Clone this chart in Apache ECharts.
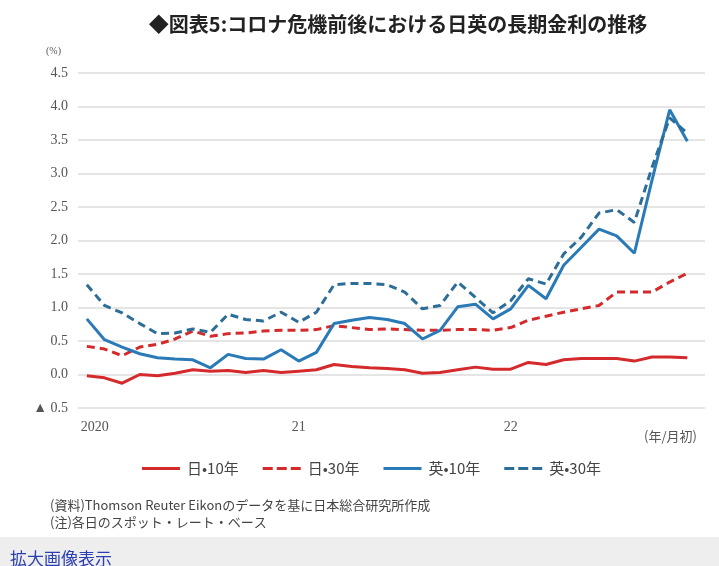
<!DOCTYPE html>
<html>
<head>
<meta charset="utf-8">
<script src="https://cdn.jsdelivr.net/npm/echarts@6/dist/echarts.min.js"></script>
<style>
html,body{margin:0;padding:0;background:#fff;}
#c{width:719px;height:566px;}
</style>
</head>
<body>
<div id="c"></div>
<script>
// Monthly (start of month), Jan 2020 .. Nov 2022 -> index 0..34
const xTickValues = [0, 12, 24];
const xTickLabels = ['2020', '21', '22'];
const seriesNames = ['日•10年', '日•30年', '英•10年', '英•30年'];

const jp10 = [-0.02,-0.05,-0.13,0.00,-0.02,0.02,0.07,0.05,0.06,0.03,0.06,0.03,
              0.05,0.07,0.15,0.12,0.10,0.09,0.07,0.02,0.03,0.07,0.11,0.08,
              0.08,0.18,0.15,0.22,0.24,0.24,0.24,0.20,0.26,0.26,0.25];
const jp30 = [0.42,0.38,0.28,0.41,0.45,0.53,0.65,0.57,0.61,0.62,0.65,0.66,
              0.66,0.67,0.73,0.70,0.67,0.68,0.67,0.66,0.66,0.67,0.67,0.66,
              0.70,0.81,0.87,0.93,0.98,1.03,1.23,1.23,1.23,1.38,1.51];
const uk10 = [0.83,0.52,0.41,0.31,0.25,0.23,0.22,0.10,0.30,0.24,0.23,0.37,
              0.20,0.33,0.76,0.81,0.85,0.82,0.76,0.53,0.66,1.01,1.05,0.83,
              0.98,1.33,1.13,1.63,1.90,2.17,2.07,1.81,2.90,3.95,3.48];
const uk30 = [1.34,1.03,0.92,0.76,0.61,0.62,0.68,0.63,0.90,0.82,0.80,0.93,
              0.78,0.93,1.34,1.36,1.36,1.34,1.23,0.98,1.03,1.38,1.15,0.92,
              1.10,1.43,1.35,1.80,2.05,2.41,2.46,2.27,3.09,3.83,3.60];

const toPairs = arr => arr.map((v, i) => [i, v]);

const RED = '#d42a2c';
const BLUE = '#2a7ab8';
const BLUE2 = '#2d6e99';
const SOLID_ICON = 'path://M0,0H38V3H0Z';
const DASH_ICON = 'path://M0,0H10V3H0Z M14,0H24V3H14Z M28,0H38V3H28Z';

const chart = echarts.init(document.getElementById('c'), null, {renderer: 'canvas'});

function lineSeries(name, data, color, dashed) {
  return {
    name: name,
    type: 'line',
    data: toPairs(data),
    symbol: 'none',
    smooth: false,
    lineStyle: {color: color, width: 3, type: dashed ? [8, 5] : 'solid'},
    itemStyle: {color: color},
    z: 3
  };
}

chart.setOption({
  animation: false,
  backgroundColor: '#ffffff',
  title: {
    text: '◆図表5:コロナ危機前後における日英の長期金利の推移',
    left: 393, top: 9, textAlign: 'center',
    textStyle: {fontFamily: 'Noto Sans CJK JP', fontSize: 20, fontWeight: 'bold', color: '#222'}
  },
  grid: {left: 78, right: 14, top: 73, bottom: 158},
  legend: {
    top: 456, left: 137,
    itemWidth: 42, itemHeight: 3, itemGap: 24,
    textStyle: {fontFamily: 'Noto Sans CJK JP', fontSize: 15, color: '#444'},
    data: [
      {name: seriesNames[0], icon: SOLID_ICON, itemStyle: {color: RED}},
      {name: seriesNames[1], icon: DASH_ICON, itemStyle: {color: RED}},
      {name: seriesNames[2], icon: SOLID_ICON, itemStyle: {color: BLUE}},
      {name: seriesNames[3], icon: DASH_ICON, itemStyle: {color: BLUE2}}
    ]
  },
  xAxis: {
    type: 'value', min: -0.5, max: 35,
    axisLine: {show: false}, axisTick: {show: false}, splitLine: {show: false},
    axisLabel: {
      customValues: xTickValues,
      margin: 12,
      fontFamily: 'Liberation Serif', fontSize: 14, color: '#555',
      formatter: function (v) {
        const k = xTickValues.indexOf(v);
        if (k < 0) return '';
        return k === 0 ? '{f|' + xTickLabels[k] + '}' : xTickLabels[k];
      },
      rich: {f: {padding: [0, 0, 0, 16], fontFamily: 'Liberation Serif', fontSize: 14, color: '#555'}}
    }
  },
  yAxis: {
    type: 'value', min: -0.5, max: 4.5, interval: 0.5,
    axisLine: {show: false}, axisTick: {show: false},
    splitLine: {lineStyle: {color: '#dddddd', width: 1.5}},
    axisLabel: {
      margin: 10,
      fontFamily: 'Liberation Serif', fontSize: 14, color: '#555',
      formatter: v => (Math.abs(v + 0.5) < 1e-9 ? '▲ 0.5' : v.toFixed(1))
    }
  },
  series: [
    lineSeries(seriesNames[0], jp10, RED, false),
    lineSeries(seriesNames[1], jp30, RED, true),
    lineSeries(seriesNames[2], uk10, BLUE, false),
    lineSeries(seriesNames[3], uk30, BLUE2, true)
  ],
  graphic: [
    {type: 'text', left: 46, top: 46, style: {text: '(%)', font: '10px "Liberation Serif"', fill: '#555'}},
    {type: 'text', left: 644, top: 430, style: {text: '(年/月初)', font: '13px "Noto Sans CJK JP"', fill: '#555'}},
    {type: 'text', left: 50, top: 499, style: {text: '(資料)Thomson Reuter Eikonのデータを基に日本総合研究所作成', font: '13px "Noto Sans CJK JP"', fill: '#444'}},
    {type: 'text', left: 50, top: 516, style: {text: '(注)各日のスポット・レート・ベース', font: '13px "Noto Sans CJK JP"', fill: '#444'}},
    {type: 'rect', left: 0, top: 537, shape: {width: 719, height: 29}, style: {fill: '#eeeeee'}, z: -1},
    {type: 'text', left: 10, top: 550, style: {text: '拡大画像表示', font: '17px "Noto Sans CJK JP"', fill: '#2b3fb0'}}
  ]
});
</script>
</body>
</html>
